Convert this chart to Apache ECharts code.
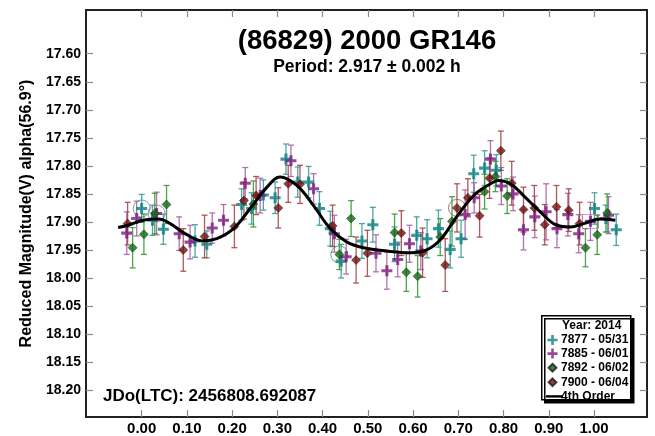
<!DOCTYPE html>
<html>
<head>
<meta charset="utf-8">
<title>(86829) 2000 GR146 lightcurve</title>
<script src="https://cdn.jsdelivr.net/npm/echarts@6/dist/echarts.min.js"></script>
<style>
  html, body { margin: 0; padding: 0; background: #ffffff; }
  #chart { width: 655px; height: 436px; }
</style>
</head>
<body>
<div id="chart"></div>
<script>
// Tick positions on the phase and magnitude axes
const xTicks = [0.00, 0.10, 0.20, 0.30, 0.40, 0.50, 0.60, 0.70, 0.80, 0.90, 1.00];
const yTicks = [17.60, 17.65, 17.70, 17.75, 17.80, 17.85, 17.90, 17.95, 18.00, 18.05, 18.10, 18.15, 18.20];

// Session 7877 (05/31)
const s7877Phase = [0.000, 0.024, 0.048, 0.118, 0.144, 0.221, 0.243, 0.269, 0.295, 0.319, 0.345, 0.369, 0.393, 0.417, 0.441, 0.487, 0.511, 0.559, 0.608, 0.631, 0.656, 0.682, 0.706, 0.734, 0.758, 0.784, 1.001, 1.026, 1.049];
const s7877Mag   = [17.876, 17.897, 17.913, 17.934, 17.940, 17.869, 17.876, 17.852, 17.857, 17.788, 17.829, 17.829, 17.876, 17.912, 17.970, 17.934, 17.905, 17.940, 17.924, 17.930, 17.912, 17.949, 17.930, 17.814, 17.804, 17.808, 17.876, 17.894, 17.914];
const s7877Err   = [0.025, 0.027, 0.027, 0.029, 0.024, 0.028, 0.028, 0.027, 0.028, 0.027, 0.027, 0.028, 0.030, 0.031, 0.030, 0.031, 0.031, 0.031, 0.033, 0.034, 0.033, 0.033, 0.033, 0.033, 0.031, 0.028, 0.028, 0.024, 0.028];

// Session 7885 (06/01)
const s7885Phase = [-0.033, -0.011, 0.033, 0.083, 0.107, 0.156, 0.181, 0.229, 0.262, 0.330, 0.380, 0.426, 0.452, 0.518, 0.542, 0.566, 0.592, 0.617, 0.715, 0.735, 0.771, 0.795, 0.821, 0.844, 0.869, 0.894, 0.918, 0.942, 0.966, 0.992, 1.032];
const s7885Mag   = [17.920, 17.894, 17.885, 17.921, 17.936, 17.911, 17.897, 17.831, 17.853, 17.791, 17.841, 17.921, 17.962, 17.956, 17.987, 17.967, 17.939, 17.952, 17.887, 17.857, 17.788, 17.836, 17.850, 17.914, 17.891, 17.882, 17.912, 17.887, 17.921, 17.899, 17.888];
const s7885Err   = [0.038, 0.031, 0.038, 0.030, 0.030, 0.027, 0.028, 0.028, 0.031, 0.028, 0.027, 0.033, 0.031, 0.033, 0.033, 0.031, 0.033, 0.033, 0.044, 0.027, 0.033, 0.033, 0.030, 0.036, 0.037, 0.050, 0.034, 0.038, 0.034, 0.034, 0.033];

// Session 7892 (06/02)
const s7892Phase = [-0.020, 0.005, 0.029, 0.055, 0.247, 0.437, 0.463, 0.559, 0.585, 0.610, 0.660, 0.686, 0.758, 0.782, 0.808, 0.981, 1.007, 1.029];
const s7892Mag   = [17.946, 17.922, 17.885, 17.869, 17.868, 17.958, 17.894, 17.919, 17.990, 17.997, 17.927, 17.899, 17.846, 17.819, 17.854, 17.946, 17.923, 17.884];
const s7892Err   = [0.036, 0.036, 0.036, 0.034, 0.041, 0.027, 0.032, 0.033, 0.034, 0.037, 0.033, 0.044, 0.031, 0.027, 0.031, 0.034, 0.035, 0.034];

// Session 7900 (06/04)
const s7900Phase = [-0.031, 0.092, 0.139, 0.205, 0.226, 0.253, 0.302, 0.324, 0.350, 0.422, 0.474, 0.499, 0.574, 0.621, 0.671, 0.697, 0.721, 0.747, 0.769, 0.794, 0.818, 0.844, 0.868, 0.891, 0.917, 0.944, 0.968];
const s7900Mag   = [17.903, 17.950, 17.926, 17.908, 17.862, 17.853, 17.875, 17.832, 17.833, 17.907, 17.968, 17.956, 17.920, 17.955, 17.977, 17.875, 17.857, 17.889, 17.822, 17.773, 17.831, 17.878, 17.875, 17.905, 17.873, 17.879, 17.903];
const s7900Err   = [0.038, 0.038, 0.038, 0.038, 0.033, 0.034, 0.036, 0.033, 0.034, 0.037, 0.041, 0.041, 0.040, 0.044, 0.047, 0.043, 0.034, 0.038, 0.036, 0.035, 0.039, 0.040, 0.040, 0.036, 0.038, 0.038, 0.038];

// 4th order Fourier fit
const fitPhase = [-0.052, -0.030, 0.004, 0.037, 0.063, 0.096, 0.136, 0.166, 0.203, 0.240, 0.277, 0.306, 0.343, 0.380, 0.417, 0.454, 0.490, 0.542, 0.594, 0.630, 0.660, 0.697, 0.734, 0.771, 0.789, 0.815, 0.844, 0.881, 0.918, 0.948, 0.977, 1.014, 1.047];
const fitMag   = [17.910, 17.906, 17.897, 17.895, 17.903, 17.921, 17.934, 17.930, 17.912, 17.876, 17.838, 17.820, 17.835, 17.871, 17.912, 17.936, 17.946, 17.952, 17.955, 17.950, 17.932, 17.890, 17.853, 17.832, 17.826, 17.832, 17.853, 17.882, 17.906, 17.909, 17.903, 17.895, 17.897];

// Session names and the index of each session's ringed observation
const sessionNames = ['7877 - 05/31', '7885 - 06/01', '7892 - 06/02', '7900 - 06/04'];
const fitName = '4th Order';
const ringedIndex = [0, 2, 5, 15];
const boxedIndex7885 = 29;

const FONT = '"Liberation Sans", Arial, sans-serif';
const markColors = ['#0b7f80', '#7d1a7d', '#0c6e0c', '#7c0c0c'];
const errColors  = ['#3a9d9d', '#a865a8', '#3a9a3a', '#a54848'];
const crossPath = 'path://M3.6,0h2.8v3.6h3.6v2.8h-3.6v3.6h-2.8v-3.6h-3.6v-2.8h3.6z';
const symbols = [crossPath, crossPath, 'diamond', 'diamond'];
const symbolSizes = [11, 11, 9, 9];

// Legend icons share an 18x11 box; the leading moves pin the box size
const legendCross   = 'path://M0,0M18,11M6.2,0.5h2.6v3.7h3.7v2.6h-3.7v3.7h-2.6v-3.7h-3.7v-2.6h3.7z';
const legendDiamond = 'path://M0,0M18,11M7.5,1.6L11.4,5.5L7.5,9.4L3.6,5.5Z';
const legendLine    = 'path://M0,0M18,11M1,4.3h17v2.4h-17z';
const legendIcons = [legendCross, legendCross, legendDiamond, legendDiamond];

const sessions = [
  [s7877Phase, s7877Mag, s7877Err],
  [s7885Phase, s7885Mag, s7885Err],
  [s7892Phase, s7892Mag, s7892Err],
  [s7900Phase, s7900Mag, s7900Err]
];

function zip3(a, b, c) { return a.map((v, i) => [v, b[i], c[i]]); }

function errorBarRenderer(color) {
  return function (params, api) {
    const x = api.value(0), y = api.value(1), e = api.value(2);
    const p1 = api.coord([x, y - e]);
    const p2 = api.coord([x, y + e]);
    const cap = 3;
    const style = { stroke: color, lineWidth: 1.3, opacity: 0.9 };
    return {
      type: 'group',
      children: [
        { type: 'line', shape: { x1: p1[0], y1: p1[1], x2: p2[0], y2: p2[1] }, style: style },
        { type: 'line', shape: { x1: p1[0] - cap, y1: p1[1], x2: p1[0] + cap, y2: p1[1] }, style: style },
        { type: 'line', shape: { x1: p2[0] - cap, y1: p2[1], x2: p2[0] + cap, y2: p2[1] }, style: style }
      ]
    };
  };
}

const series = [];
sessions.forEach((s, k) => {
  series.push({
    name: sessionNames[k] + ' error',
    type: 'custom',
    renderItem: errorBarRenderer(errColors[k]),
    data: zip3(s[0], s[1], s[2]),
    encode: { x: 0, y: 1 },
    z: 2,
    silent: true
  });
});
sessions.forEach((s, k) => {
  series.push({
    name: sessionNames[k],
    type: 'scatter',
    symbol: symbols[k],
    symbolSize: symbolSizes[k],
    data: s[0].map((v, i) => [v, s[1][i]]),
    itemStyle: k < 2
      ? { color: markColors[k] }
      : { color: markColors[k], borderColor: '#1a1a1a', borderWidth: 0.6 },
    z: 4
  });
});
// rings around the first observation of each session
sessions.forEach((s, k) => {
  const i = ringedIndex[k];
  series.push({
    name: sessionNames[k] + ' ring',
    type: 'scatter',
    symbol: 'circle',
    symbolSize: 17,
    data: [[s[0][i], s[1][i]]],
    itemStyle: { color: 'rgba(0,0,0,0)', borderColor: errColors[k], borderWidth: 1 },
    z: 3,
    silent: true
  });
});
series.push({
  name: sessionNames[1] + ' box',
  type: 'scatter',
  symbol: 'rect',
  symbolSize: [16, 14],
  data: [[s7885Phase[boxedIndex7885], s7885Mag[boxedIndex7885]]],
  itemStyle: { color: 'rgba(0,0,0,0)', borderColor: errColors[1], borderWidth: 1 },
  z: 3,
  silent: true
});
series.push({
  name: fitName,
  type: 'line',
  data: fitPhase.map((v, i) => [v, fitMag[i]]),
  smooth: 0.4,
  symbol: 'none',
  color: '#000000',
  itemStyle: { color: '#000000' },
  lineStyle: { color: '#000000', width: 3 },
  z: 5
});

const tickStyle = { lineStyle: { color: '#8a8a8a', width: 1.2 } };
const hiddenLine = { show: false, onZero: false };

const option = {
  backgroundColor: '#ffffff',
  animation: false,
  textStyle: { fontFamily: FONT },
  title: [
    {
      text: '(86829) 2000 GR146',
      left: 367, top: 27, textAlign: 'center', padding: 0,
      textStyle: { fontFamily: FONT, fontWeight: 'bold', fontSize: 27.5, color: '#000' }
    },
    {
      text: 'Period: 2.917 \u00b1 0.002 h',
      left: 367, top: 58, textAlign: 'center', padding: 0,
      textStyle: { fontFamily: FONT, fontWeight: 'bold', fontSize: 17.5, color: '#000' }
    },
    {
      text: 'JDo(LTC): 2456808.692087',
      left: 103, top: 388, padding: 0,
      textStyle: { fontFamily: FONT, fontWeight: 'bold', fontSize: 17, color: '#000' }
    }
  ],
  grid: {
    left: 86, right: 8, top: 10, bottom: 17,
    show: true, borderColor: '#222222', borderWidth: 2, backgroundColor: 'transparent'
  },
  xAxis: [
    {
      type: 'value', min: -0.123, max: 1.117, position: 'bottom',
      axisLine: hiddenLine,
      splitLine: { show: false },
      axisTick: Object.assign({ show: true, inside: true, length: 7, customValues: xTicks }, tickStyle),
      axisLabel: {
        customValues: xTicks, margin: 4,
        formatter: v => v.toFixed(2),
        fontFamily: FONT, fontWeight: 'bold', fontSize: 15, color: '#000'
      }
    },
    {
      type: 'value', min: -0.123, max: 1.117, position: 'top',
      axisLine: hiddenLine,
      splitLine: { show: false },
      axisTick: Object.assign({ show: true, inside: true, length: 7, customValues: xTicks }, tickStyle),
      axisLabel: { show: false }
    }
  ],
  yAxis: [
    {
      type: 'value', min: 17.522, max: 18.248, inverse: true, position: 'left',
      name: 'Reduced Magnitude(V) alpha(56.9\u00b0)',
      nameLocation: 'middle', nameRotate: 90, nameGap: 51,
      nameTextStyle: { fontFamily: FONT, fontWeight: 'bold', fontSize: 16, color: '#000' },
      axisLine: hiddenLine,
      splitLine: { show: false },
      axisTick: Object.assign({ show: true, inside: true, length: 7, customValues: yTicks }, tickStyle),
      axisLabel: {
        customValues: yTicks, margin: 5,
        formatter: v => v.toFixed(2),
        fontFamily: FONT, fontWeight: 'bold', fontSize: 14, color: '#000'
      }
    },
    {
      type: 'value', min: 17.522, max: 18.248, inverse: true, position: 'right',
      axisLine: hiddenLine,
      splitLine: { show: false },
      axisTick: Object.assign({ show: true, inside: true, length: 7, customValues: yTicks }, tickStyle),
      axisLabel: { show: false }
    }
  ],
  legend: {
    orient: 'vertical',
    left: 544, top: 334,
    itemWidth: 18, itemHeight: 11, itemGap: 1.6,
    padding: 0,
    z: 100,
    selectedMode: false,
    data: sessionNames.map((n, k) => ({ name: n, icon: legendIcons[k] }))
      .concat([{ name: fitName, icon: legendLine, itemStyle: { color: '#000000' } }]),
    textStyle: { fontFamily: FONT, fontWeight: 'bold', fontSize: 12, color: '#000', lineHeight: 11, padding: [0, 0, 0, -7] }
  },
  graphic: [
    {
      type: 'rect', left: 541, top: 315, z: 1,
      shape: { width: 89, height: 84 },
      style: { fill: '#ffffff', stroke: '#000000', lineWidth: 1.5, shadowColor: '#000000', shadowOffsetX: 3, shadowOffsetY: 3, shadowBlur: 0 }
    },
    {
      type: 'text', left: 562, top: 320, z: 2,
      style: { text: 'Year: 2014', font: 'bold 12px ' + FONT, fill: '#000' }
    }
  ],
  series: series
};

const chart = echarts.init(document.getElementById('chart'), null, { renderer: 'canvas' });
chart.setOption(option);
</script>
</body>
</html>
